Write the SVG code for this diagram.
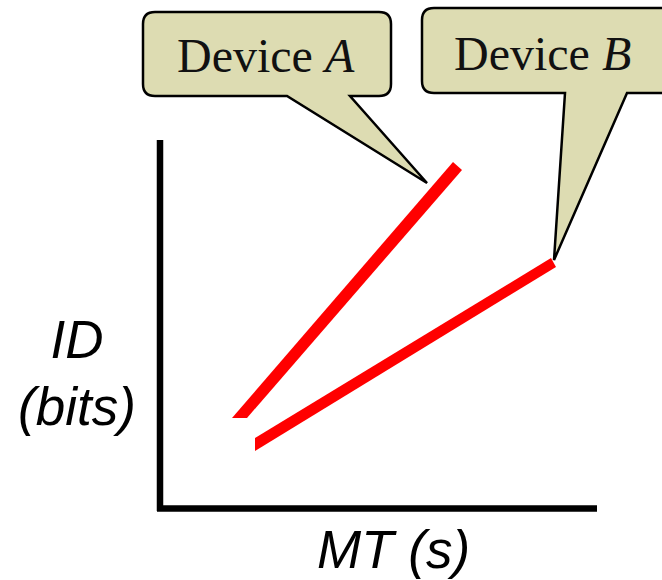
<svg xmlns="http://www.w3.org/2000/svg" width="662" height="580" viewBox="0 0 662 580">
<style>
.callout{fill:#dddcb2;stroke:#000;stroke-width:2.5;stroke-linejoin:miter}
.ctext{font-family:"Liberation Serif","Times New Roman",serif;font-size:48px;fill:#111}
.axis{stroke:#000;stroke-width:6.5;fill:none}
.atext{font-family:"Liberation Sans",Arial,sans-serif;font-style:italic;font-size:53px;fill:#000}
.data{fill:#ff0000}
</style>
<rect width="662" height="580" fill="#fff"/>
<g id="axes">
<line class="axis" x1="160" y1="140" x2="160" y2="511"/>
<line class="axis" x1="157" y1="508.5" x2="597" y2="508.5"/>
</g>
<g id="label-y">
<text class="atext" x="77" y="358" text-anchor="middle">ID</text>
<text class="atext" x="77" y="425" text-anchor="middle">(bits)</text>
</g>
<g id="label-x">
<text class="atext" x="317" y="568">MT (s)</text>
</g>
<g id="line-a">
<polygon class="data" points="232,418 247,418 462,170 453,162"/>
</g>
<g id="line-b">
<polygon class="data" points="255,438 255,451 556,267 551,258"/>
</g>
<g id="callout-a">
<path class="callout" d="M155,12 H379 Q391,12 391,24 V84 Q391,96 379,96 H350 L427,183 L287,96 H155 Q143,96 143,84 V24 Q143,12 155,12 Z"/>
<text class="ctext" x="177" y="72">Device <tspan font-style="italic">A</tspan></text>
</g>
<g id="callout-b">
<path class="callout" d="M434,8 H660 Q672,8 672,20 V81 Q672,93 660,93 H627 L554,260 L565,93 H434 Q422,93 422,81 V20 Q422,8 434,8 Z"/>
<text class="ctext" x="454" y="70">Device <tspan font-style="italic">B</tspan></text>
</g>
</svg>
